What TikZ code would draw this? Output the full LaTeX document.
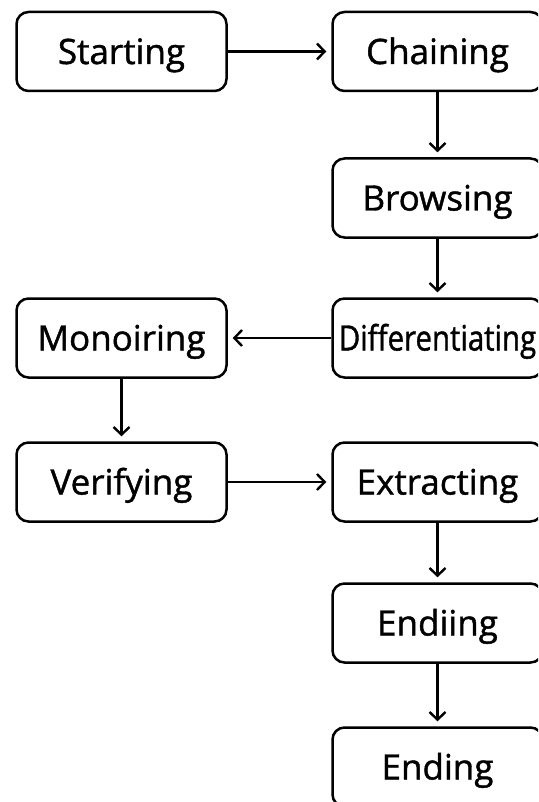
\documentclass[tikz,border=0pt]{standalone}
\usepackage{fontspec}
\setmainfont{Open Sans}
\newfontfamily\stagefont[FakeBold=1.2]{Open Sans}
\usetikzlibrary{arrows.meta}

\tikzset{
	stage/.style={draw, line width=1.25pt, rounded corners=6pt, minimum width=105pt, minimum height=39.5pt, inner sep=0pt, text height=12.5pt, text depth=0pt, font=\stagefont\fontsize{17.5}{20}\selectfont},
	flow/.style={-{Straight Barb[length=3.8pt,width=8pt]}, line width=1.2pt, shorten >=2.5pt}
}

\begin{document}
\begin{tikzpicture}[x=0.5pt,y=-0.5pt]
		\useasboundingbox ( 0, 0 ) rectangle ( 538, 802 );
		\clip ( 0, 0 ) rectangle ( 538, 802 );

		% left column
		\node [stage] (start) at ( 121.5, 51.5 ) {Starting};
		\node [stage] (monitor) at ( 121.5, 338 ) {Monoiring};
		\node [stage] (verify) at ( 121.5, 482 ) {Verifying};

		% right column
		\node [stage] (chain) at ( 437.5, 51.5 ) {Chaining};
		\node [stage] (browse) at ( 437.5, 198 ) {Browsing};
		\node [stage] (diff) at ( 437.5, 338 ) {\scalebox{0.84}[1]{Differentiating}};
		\node [stage] (extract) at ( 437.5, 482 ) {Extracting};
		\node [stage] (endi) at ( 437.5, 623 ) {Endiing};
		\node [stage] (finish) at ( 437.5, 767 ) {Ending};

		% connectors
		\draw [flow] (start) -- (chain);
		\draw [flow] (chain) -- (browse);
		\draw [flow] (browse) -- (diff);
		\draw [flow] (diff) -- (monitor);
		\draw [flow] (monitor) -- (verify);
		\draw [flow] (verify) -- (extract);
		\draw [flow] (extract) -- (endi);
		\draw [flow] (endi) -- (finish);
	\end{tikzpicture}
\end{document}
